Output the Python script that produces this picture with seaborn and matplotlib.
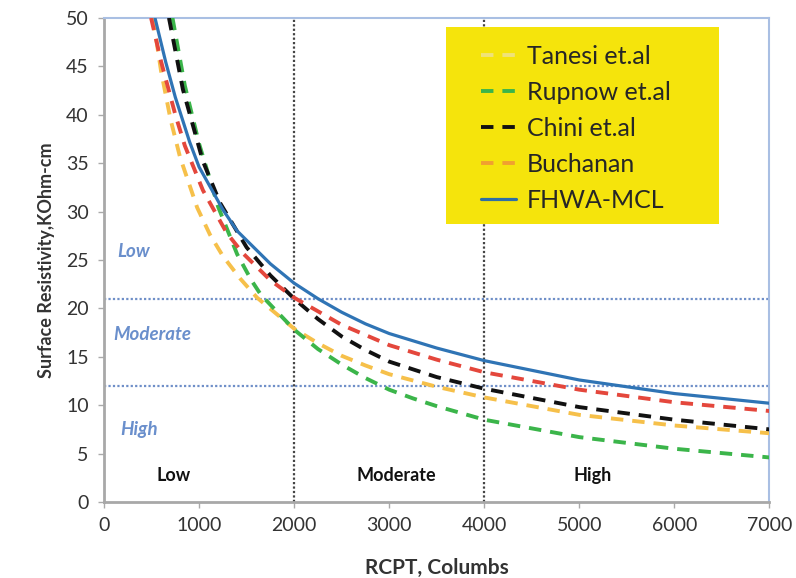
import matplotlib
matplotlib.use("Agg")
import matplotlib.pyplot as plt
from matplotlib.patches import Rectangle
import seaborn as sns
import pandas as pd

sns.set_theme(style="white")
plt.rcParams['font.family'] = ['Lato', 'DejaVu Sans']

# ---- data ----
tanesi_x = [515, 600, 700, 800, 980, 1115, 1250, 1430, 1610, 2000, 2250, 2500, 2750, 3000, 3500, 4000, 5000, 6000, 7000]
tanesi_y = [50, 44.5, 39.5, 35.6, 30.4, 27.6, 25.4, 23.1, 21.1, 17.9, 16.4, 15.1, 14.1, 13.2, 11.9, 10.8, 9.0, 7.9, 7.1]

rupnow_x = [720, 850, 1000, 1200, 1400, 1550, 1650, 2000, 2250, 2500, 2750, 3000, 3250, 3500, 4000, 5000, 6000, 7000]
rupnow_y = [50, 43, 37, 30.5, 25.6, 22.9, 21.4, 17.8, 15.8, 14.2, 12.8, 11.6, 10.7, 9.9, 8.5, 6.7, 5.5, 4.6]

chini_x = [683, 830, 1040, 1220, 1500, 1750, 2000, 2250, 2500, 2750, 3000, 3500, 4000, 5000, 6000, 7000]
chini_y = [50, 42.6, 35.2, 30.9, 26.3, 23.4, 21.0, 18.9, 17.1, 15.7, 14.5, 12.9, 11.7, 9.8, 8.5, 7.5]

buchanan_x = [495, 600, 750, 850, 1040, 1290, 1460, 1750, 2000, 2500, 3000, 3500, 4000, 5000, 6000, 7000]
buchanan_y = [50, 45.5, 40, 36.8, 32.2, 27.8, 25.7, 22.9, 21.1, 18.3, 16.2, 14.7, 13.4, 11.6, 10.3, 9.4]

fhwa_x = [536, 650, 750, 900, 1000, 1250, 1400, 1750, 2000, 2250, 2500, 2750, 3000, 3500, 4000, 5000, 6000, 7000]
fhwa_y = [50, 45.4, 41.8, 37.2, 34.6, 30.2, 28.0, 24.6, 22.6, 21.0, 19.6, 18.4, 17.4, 15.9, 14.6, 12.6, 11.2, 10.2]

series_names = ["Tanesi et.al", "Rupnow et.al", "Chini et.al", "Buchanan", "FHWA-MCL"]
x_ticks = [0, 1000, 2000, 3000, 4000, 5000, 6000, 7000]
y_ticks = [0, 5, 10, 15, 20, 25, 30, 35, 40, 45, 50]
resist_limits = [21, 12]
rcpt_limits = [2000, 4000]
resist_classes = ["Low", "Moderate", "High"]
rcpt_classes = ["Low", "Moderate", "High"]

frames = []
for name, xs, ys in zip(series_names,
                        [tanesi_x, rupnow_x, chini_x, buchanan_x, fhwa_x],
                        [tanesi_y, rupnow_y, chini_y, buchanan_y, fhwa_y]):
    frames.append(pd.DataFrame({"RCPT": xs, "SR": ys, "Study": name}))
df = pd.concat(frames, ignore_index=True)

colors = {"Tanesi et.al": "#f6c04a", "Rupnow et.al": "#3bb54a", "Chini et.al": "#111111",
          "Buchanan": "#e4473c", "FHWA-MCL": "#2f74b5"}
legend_colors = {"Tanesi et.al": "#efe27a", "Rupnow et.al": "#3bb54a", "Chini et.al": "#111111",
                 "Buchanan": "#f0a030", "FHWA-MCL": "#2f6fa5"}

fig = plt.figure(figsize=(7.96, 5.78), dpi=100)
ax = fig.add_axes([0.1307, 0.1315, 0.836, 0.8375])

# reference lines
for v in resist_limits:
    ax.axhline(v, color="#6f8fc8", linestyle=(0, (1, 1)), linewidth=1.6, zorder=1)
for v in rcpt_limits:
    ax.axvline(v, color="#444444", linestyle=(0, (1, 1)), linewidth=1.6, zorder=1)

for name in series_names:
    sub = df[df["Study"] == name]
    solid = name == "FHWA-MCL"
    sns.lineplot(data=sub, x="RCPT", y="SR", ax=ax, color=colors[name],
                 linewidth=2.3 if solid else 2.8, sort=True,
                 linestyle="-" if solid else (0, (3.2, 2.3)), label=name, zorder=3)

ax.set_xlim(0, 7000)
ax.set_ylim(0, 50)
ax.set_xticks(x_ticks)
ax.set_yticks(y_ticks)
ax.set_xticklabels([str(t) for t in x_ticks], fontsize=14, color="#333333")
ax.set_yticklabels([str(t) for t in y_ticks], fontsize=14, color="#333333")
ax.tick_params(axis="both", direction="out", length=4, width=1, color="#aaaaaa", pad=7)
ax.tick_params(axis="x", bottom=True)
ax.tick_params(axis="y", left=True)

for side in ["left", "bottom"]:
    ax.spines[side].set_color("#a8a8a8")
    ax.spines[side].set_linewidth(2)
for side in ["top", "right"]:
    ax.spines[side].set_color("#a9bfe3")
    ax.spines[side].set_linewidth(1.5)

ax.set_xlabel("RCPT, Columbs", fontsize=15, fontweight="bold", color="#333333", labelpad=17)
ax.set_ylabel("Surface Resistivity,KOhm-cm", fontsize=13, fontweight="bold", color="#333333", labelpad=8)

# zone labels
for lab, xv, yv in zip(resist_classes, [137, 95, 170], [25.9, 17.3, 7.5]):
    ax.text(xv, yv, lab, fontsize=13.5, style="italic", fontweight="bold",
            color="#6a8fcc", va="center", ha="left")
for lab, xv in zip(rcpt_classes, [735, 3070, 5140]):
    ax.text(xv, 2.7, lab, fontsize=13, fontweight="bold", color="#111111",
            ha="center", va="center")

# yellow legend panel
ax.add_patch(Rectangle((0.5135, 0.574), 0.411, 0.407, transform=ax.transAxes,
                       facecolor="#f5e40c", edgecolor="none", zorder=4))

leg = ax.legend(loc="upper left", bbox_to_anchor=(0.566, 0.945), frameon=False,
                fontsize=18, handlelength=1.4, labelspacing=0.52, borderpad=0,
                handletextpad=0.45, borderaxespad=0)
for t in leg.get_texts():
    t.set_color("#262626")
for line, name in zip(leg.get_lines(), series_names):
    line.set_color(legend_colors[name])
leg.set_zorder(5)

fig.savefig("out.png", dpi=100)
